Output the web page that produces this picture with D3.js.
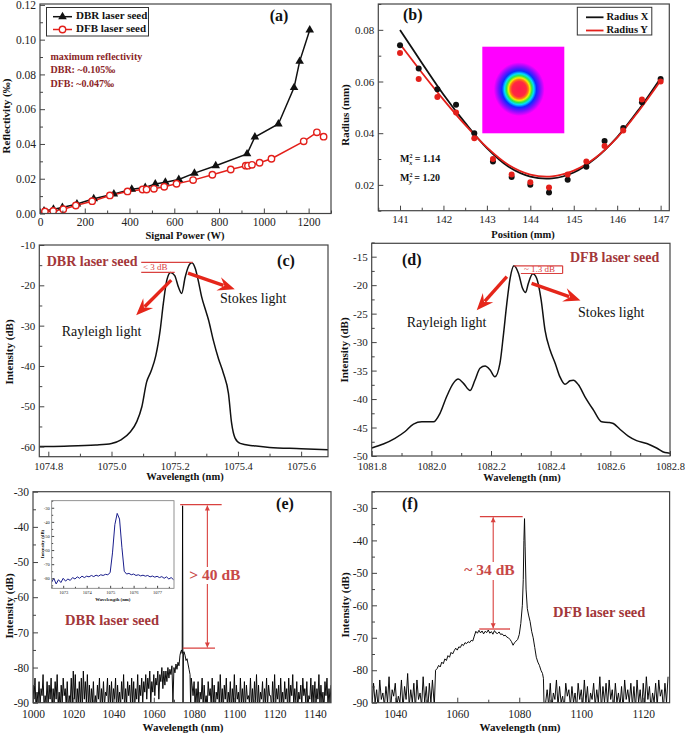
<!DOCTYPE html>
<html><head><meta charset="utf-8">
<script src="https://cdn.jsdelivr.net/npm/d3@7"></script>
<style>body{margin:0;background:#fff}</style>
</head><body>
<script>
// ================= DATA =================
// (a) reflectivity vs signal power
const dbrPower = [18, 60, 100, 165, 240, 330, 410, 470, 515, 560, 620, 690, 785, 925, 960, 1065, 1135, 1160, 1205];
const dbrRefl  = [0.0015, 0.0025, 0.0035, 0.0055, 0.0085, 0.0112, 0.014, 0.015, 0.017, 0.018, 0.0196, 0.0232, 0.0275, 0.0343, 0.044, 0.0515, 0.0724, 0.0875, 0.1055];
const dfbPower = [22, 59, 104, 160, 233, 312, 391, 458, 476, 509, 555, 610, 684, 770, 852, 919, 929, 947, 981, 1034, 1178, 1237, 1267];
const dfbRefl  = [0.0012, 0.0015, 0.0025, 0.0046, 0.0071, 0.0104, 0.0127, 0.0138, 0.0138, 0.0142, 0.0154, 0.0171, 0.0192, 0.0223, 0.0253, 0.0275, 0.0275, 0.028, 0.0292, 0.0315, 0.0415, 0.0467, 0.0442];
const aXTicks = [0, 200, 400, 600, 800, 1000, 1200];
const aYTicks = [0, 0.02, 0.04, 0.06, 0.08, 0.10, 0.12];

// (b) beam radius vs position
const posMM   = [141, 141.43, 141.86, 142.29, 142.71, 143.14, 143.57, 144, 144.43, 144.86, 145.29, 145.71, 146.14, 146.57, 147];
const radiusX = [0.074, 0.065, 0.057, 0.051, 0.040, 0.029, 0.023, 0.020, 0.017, 0.022, 0.027, 0.037, 0.042, 0.052, 0.061];
const radiusY = [0.071, 0.061, 0.054, 0.048, 0.038, 0.030, 0.024, 0.021, 0.019, 0.024, 0.029, 0.035, 0.041, 0.053, 0.060];
const fitPos  = [141, 141.5, 142, 142.5, 143, 143.5, 144, 144.5, 145, 145.5, 146, 146.5, 147];
const fitX    = [0.0799, 0.0673, 0.0550, 0.0440, 0.0342, 0.0270, 0.0232, 0.0225, 0.0248, 0.0303, 0.0385, 0.0492, 0.0613];
const fitY    = [0.0745, 0.0635, 0.0530, 0.0432, 0.0345, 0.0277, 0.0240, 0.0233, 0.0255, 0.0305, 0.0383, 0.0487, 0.0603];
const bXTicks = [141, 142, 143, 144, 145, 146, 147];
const bYTicks = [0.02, 0.04, 0.06, 0.08];

// (c) DBR seed spectrum
const cWl = [1074.7715, 1074.85, 1074.95, 1075.0, 1075.03, 1075.06, 1075.08, 1075.096, 1075.111, 1075.125, 1075.14, 1075.154, 1075.164, 1075.175, 1075.187, 1075.2, 1075.212, 1075.222, 1075.233, 1075.244, 1075.254, 1075.265, 1075.275, 1075.285, 1075.297, 1075.307, 1075.322, 1075.338, 1075.354, 1075.37, 1075.38, 1075.391, 1075.407, 1075.45, 1075.5, 1075.6, 1075.685];
const cDb = [-60.0, -59.9, -59.6, -59.2, -58.3, -56.3, -53.8, -50.1, -44.0, -41.3, -37.5, -31.1, -24.5, -18.7, -16.8, -17.6, -20.5, -22.0, -18.0, -15.2, -14.4, -15.8, -19.0, -22.8, -26.0, -28.6, -33.6, -38.1, -41.8, -46.8, -54.2, -57.9, -59.2, -59.8, -60.2, -60.5, -60.8];
const cXTicks = [1074.8, 1075.0, 1075.2, 1075.4, 1075.6];
const cYTicks = [-60, -50, -40, -30, -20, -10];

// (d) DFB seed spectrum
const dWl = [1081.8, 1081.839, 1081.878, 1081.912, 1081.94, 1081.968, 1082.007, 1082.029, 1082.051, 1082.074, 1082.09, 1082.107, 1082.13, 1082.146, 1082.163, 1082.18, 1082.197, 1082.213, 1082.23, 1082.241, 1082.253, 1082.264, 1082.277, 1082.292, 1082.306, 1082.316, 1082.325, 1082.34, 1082.353, 1082.368, 1082.381, 1082.398, 1082.415, 1082.431, 1082.448, 1082.465, 1082.476, 1082.493, 1082.515, 1082.543, 1082.571, 1082.593, 1082.61, 1082.632, 1082.66, 1082.688, 1082.722, 1082.755, 1082.783, 1082.8];
const dDb = [-48.6, -47.9, -46.9, -45.7, -44.4, -44.0, -44.0, -42.5, -39.6, -37.2, -36.5, -37.2, -38.5, -36.7, -34.6, -34.2, -34.9, -36.1, -33.7, -29.0, -23.2, -18.8, -16.6, -17.9, -20.6, -21.3, -19.7, -18.0, -18.8, -22.6, -27.9, -31.4, -33.7, -36.1, -37.4, -36.8, -36.7, -37.5, -39.6, -41.9, -44.0, -44.1, -44.3, -45.3, -46.5, -47.3, -47.8, -48.6, -49.4, -49.5];
const dXTicks = [1081.8, 1082.0, 1082.2, 1082.4, 1082.6, 1082.8];
const dYTicks = [-50, -45, -40, -35, -30, -25, -20, -15];

// (e) DBR seed broadband spectrum: noise floor tops (integer nm) / lows (half nm) + ASE/peak section
const eTopL = [-85,-83,-87,-84,-86,-82,-88,-84,-85,-83, -86,-84,-82,-87,-85,-83,-86,-84,-88,-83, -81,-82,-86,-84,-83,-81,-84,-82,-85,-86, -84,-88,-85,-83,-86,-84,-87,-83,-85,-84, -86,-83,-85,-87,-84,-82,-86,-84,-85,-83, -84,-86,-82,-85,-83,-84,-82,-83,-81,-84, -82,-83,-81,-82,-80,-81];
const eLowL = [-91,-89,-92,-90,-91,-88,-92,-90,-91,-89, -92,-90,-89,-91,-92,-90,-88,-91,-92,-90, -91,-89,-92,-90,-91,-92,-89,-90,-91,-92, -90,-92,-91,-89,-92,-90,-91,-88,-92,-90, -91,-89,-92,-90,-91,-89,-92,-90,-88,-91, -90,-92,-89,-91,-88,-90,-87,-89,-86,-90, -87,-88,-85,-89,-84,-86];
const ePeakWl = [1065.5,1066,1066.5,1067,1067.5,1068,1068.5,1069,1069.5,1070,1070.5,1071,1071.5,1072,1072.5,1073,1073.4,1073.8,1074.1,1074.3,1074.5,1074.7,1075,1075.5,1076,1076.5,1077,1077.5,1078,1078.3,1078.6,1079,1079.5,1080];
const ePeakDb = [-85,-81,-84,-80,-83,-80.5,-82,-79.5,-90,-80,-81.5,-79,-80.5,-78.5,-79.5,-76.5,-75.5,-75,-76,-34,-91,-76,-75.5,-76.5,-78,-77.5,-79,-80.5,-82,-91,-83,-85,-88,-84];
const eTopR = [-86,-84,-87,-83,-85,-88,-84,-86,-83,-85, -87,-84,-82,-86,-85,-83,-87,-84,-86,-82, -85,-87,-83,-86,-84,-85,-88,-83,-86,-84, -82,-85,-87,-84,-86,-83,-85,-88,-84,-82, -86,-85,-83,-87,-84,-86,-83,-85,-82,-86, -84,-87,-85,-83,-86,-84,-88,-83,-85,-84, -86,-82,-85,-87,-84,-83,-86,-85];
const eLowR = [-91,-90,-92,-89,-91,-90,-92,-88,-91,-90, -92,-89,-91,-90,-92,-89,-91,-90,-92,-90, -91,-89,-92,-90,-91,-92,-89,-90,-91,-92, -90,-92,-91,-89,-92,-90,-91,-88,-92,-90, -91,-89,-92,-90,-91,-89,-92,-90,-88,-91, -90,-92,-89,-91,-88,-90,-92,-89,-91,-90, -92,-89,-91,-90,-92,-88,-91,-90];
const eXTicks = [1000, 1020, 1040, 1060, 1080, 1100, 1120, 1140];
const eYTicks = [-90, -80, -70, -60, -50, -40, -30];

// (e) inset, DBR seed narrow spectrum (0.1 nm grid from 1072.5 nm)
const insetDb = [-83,-80,-84,-81,-83,-80,-82,-80.5,-81.5,-79.5, -80.5,-79,-80,-78.5,-79.5,-78.5,-79,-78,-78.8,-77.8, -78.5,-77.5,-78,-77.2,-77.5,-76,-62,-42,-34,-38, -58,-75,-77,-76.5,-77.5,-77,-78,-77.5,-78.3,-77.8, -78.5,-78,-79,-78.4,-79.2,-78.6,-79.5,-78.8,-80,-79, -80.5,-79.5,-81];
const insetXTicks = [1073, 1074, 1075, 1076, 1077];
const insetYTicks = [-80, -70, -60, -50, -40, -30];

// (f) DFB seed broadband spectrum
const fTopL = [-84,-86,-83,-87,-85,-82,-86,-84,-88,-83,-85,-81,-86,-84,-83,-87,-82,-85,-84,-83];
const fLowL = [-91,-90,-92,-89,-91,-90,-92,-88,-91,-90,-92,-89,-91,-90,-92,-89,-91,-90,-92,-90];
const fAseWl = [1052.6,1053,1053.5,1054,1054.5,1055,1055.5,1056,1056.5,1057,1057.5,1058,1058.5,1059,1059.5,1060,1060.5,1061,1061.5,1062,1062.5,1063,1063.5,1064,1064.5,1065,1065.5,1066,1066.5,1067,1067.5,1068,1068.5,1069,1069.5,1070,1070.5,1071,1071.5,1072,1072.5,1073,1073.5,1074,1074.5,1075,1075.5,1076,1076.5,1077,1077.5,1078,1078.5,1079,1079.5,1080,1080.5,1081,1081.3,1081.5,1081.7,1081.9,1082.2,1082.6,1083,1083.5,1084,1084.5,1085,1085.5,1086,1086.5,1087,1087.5,1087.8,1088];
const fAseDb = [-91,-80,-79.5,-78.5,-79,-77.5,-78,-76.5,-77,-75.5,-76,-74.5,-75,-74,-73.2,-73.8,-72.8,-73,-72,-72.4,-71.5,-71.8,-71.2,-71.5,-70.8,-71,-69.5,-68,-68.6,-67.7,-68.5,-67.9,-68.8,-68,-68.4,-67.6,-68.6,-68.1,-68.9,-67.8,-68.5,-68.7,-68.2,-69,-68.8,-69.4,-69.2,-69.8,-70,-70.5,-71.2,-72.3,-71.5,-71,-70.5,-69,-65.6,-60,-52,-40,-33.3,-42,-55,-61,-63,-65,-68,-70,-73,-76,-77.5,-78.5,-80,-81,-82.5,-91];
const fTopR = [-86,-84,-87,-83,-85,-88,-84,-86,-85,-87, -84,-86,-83,-85,-87,-84,-86,-82,-85,-84, -83,-86,-84,-87,-85,-83,-86,-84,-85,-83, -86,-84,-82,-85,-87,-84,-83,-86,-84,-82];
const fLowR = [-90,-91,-92,-89,-91,-90,-92,-88,-91,-90, -92,-89,-91,-90,-92,-89,-91,-90,-92,-90, -91,-89,-92,-90,-91,-92,-89,-90,-91,-92, -90,-92,-91,-89,-92,-90,-91,-88,-92,-90];
const fXTicks = [1040, 1060, 1080, 1100, 1120];
const fYTicks = [-90, -80, -70, -60, -50, -40, -30];

// ================= DRAWING =================
const FONT = "'Liberation Serif','Times New Roman',serif";
const RED = "#e3201b", BROWN = "#a3373a", ANN = "#d9413f";
const svg = d3.select("body").append("svg").attr("width", 685).attr("height", 736).style("background", "#fff");
const defs = svg.append("defs");
let cid = 0;

function mids(t){ return d3.pairs(t).map(([a,b]) => (a+b)/2); }
function styleAxis(sel, fs){
  sel.select(".domain").remove();
  sel.selectAll("line").attr("stroke", "#444").attr("stroke-width", 1);
  sel.selectAll("text").attr("font-family", FONT).attr("font-size", fs).attr("fill", "#222");
}
function panel(c){
  const x = d3.scaleLinear().domain(c.xd).range([c.l, c.r]);
  const y = d3.scaleLinear().domain(c.yd).range([c.b, c.t]);
  const id = "cp" + (cid++);
  defs.append("clipPath").attr("id", id).append("rect")
    .attr("x", c.l).attr("y", c.t).attr("width", c.r - c.l).attr("height", c.b - c.t);
  const root = svg.append("g");
  if (c.bg) root.append("rect").attr("x", c.l).attr("y", c.t).attr("width", c.r - c.l).attr("height", c.b - c.t).attr("fill", c.bg);
  const plot = root.append("g").attr("clip-path", `url(#${id})`);
  const front = root.append("g");
  const fs = c.fs || 11, tl = c.tl || 5, tm = c.tm || 3;
  const xm = c.xm || mids(c.xt), ym = c.ym || mids(c.yt);
  front.append("g").attr("transform", `translate(0,${c.b})`)
    .call(d3.axisBottom(x).tickValues(xm).tickSize(-tm).tickFormat("")).call(s => styleAxis(s, fs));
  front.append("g").attr("transform", `translate(0,${c.b})`)
    .call(d3.axisBottom(x).tickValues(c.xt).tickSize(-tl).tickPadding(c.xp || 4).tickFormat(c.xf)).call(s => styleAxis(s, c.xfs || fs));
  front.append("g").attr("transform", `translate(${c.l},0)`)
    .call(d3.axisLeft(y).tickValues(ym).tickSize(-tm).tickFormat("")).call(s => styleAxis(s, fs));
  front.append("g").attr("transform", `translate(${c.l},0)`)
    .call(d3.axisLeft(y).tickValues(c.yt).tickSize(-tl).tickPadding(c.yp || 4).tickFormat(c.yf)).call(s => styleAxis(s, fs));
  front.append("rect").attr("x", c.l).attr("y", c.t).attr("width", c.r - c.l).attr("height", c.b - c.t)
    .attr("fill", "none").attr("stroke", c.frame || "#444").attr("stroke-width", c.fw || 1.2);
  return {x, y, plot, front, c};
}
function text(g, x, y, s, o = {}){
  return g.append("text").attr("x", x).attr("y", y).text(s)
    .attr("font-family", FONT).attr("font-size", o.size || 11)
    .attr("font-weight", o.bold ? "bold" : "normal")
    .attr("fill", o.color || "#111")
    .attr("text-anchor", o.anchor || "start")
    .attr("dominant-baseline", o.base || "auto");
}
function vtitle(x, y, s, size){
  svg.append("text").attr("transform", `translate(${x},${y}) rotate(-90)`).text(s)
    .attr("font-family", FONT).attr("font-size", size || 11).attr("font-weight", "bold")
    .attr("text-anchor", "middle").attr("dominant-baseline", "middle").attr("fill", "#111");
}
function htitle(x, y, s, size){
  text(svg, x, y, s, {size: size || 11, bold: true, anchor: "middle", base: "middle"});
}
function arrow(g, x1, y1, x2, y2, color){
  const dx = x2 - x1, dy = y2 - y1, L = Math.hypot(dx, dy), ux = dx / L, uy = dy / L;
  const hl = 15, hw = 7;
  const bx = x2 - ux * hl, by = y2 - uy * hl;
  g.append("line").attr("x1", x1).attr("y1", y1).attr("x2", bx + ux * 3).attr("y2", by + uy * 3)
    .attr("stroke", color).attr("stroke-width", 3.4);
  g.append("path").attr("d", `M${x2},${y2}L${bx - uy * hw - ux * 2},${by + ux * hw - uy * 2}L${bx + ux * 4},${by + uy * 4}L${bx + uy * hw - ux * 2},${by - ux * hw - uy * 2}Z`)
    .attr("fill", color);
}
function zigzag(lows, tops, start){
  const out = [];
  lows.forEach((v, i) => { out.push([start + i, v]); out.push([start + i + 0.5, tops[i]]); });
  return out;
}
const fmtInt = d => String(d);
const fmt1 = d => d.toFixed(1);
const fmt2 = d => d.toFixed(2);

// ---------- (a) ----------
const A = panel({l: 40, r: 331, t: 4, b: 213.5, xd: [0, 1300], yd: [0, 0.1205],
  xt: aXTicks, yt: aYTicks, xf: fmtInt, yf: fmt2, fs: 11.5, xp: 4.5, xm: [100,300,500,700,900,1100,1300]});
{
  const line = d3.line().x(d => A.x(d[0])).y(d => A.y(d[1]));
  const dbr = d3.zip(dbrPower, dbrRefl), dfb = d3.zip(dfbPower, dfbRefl);
  A.plot.append("path").attr("d", line(dbr)).attr("fill", "none").attr("stroke", "#111").attr("stroke-width", 1.5);
  A.plot.append("path").attr("d", line(dfb)).attr("fill", "none").attr("stroke", RED).attr("stroke-width", 1.5);
  const tri = d3.symbol(d3.symbolTriangle).size(32);
  A.plot.selectAll(".tri").data(dbr).join("path").attr("d", tri)
    .attr("transform", d => `translate(${A.x(d[0])},${A.y(d[1])})`).attr("fill", "#111");
  A.plot.selectAll(".cir").data(dfb).join("circle").attr("cx", d => A.x(d[0])).attr("cy", d => A.y(d[1]))
    .attr("r", 3.2).attr("fill", "#fff").attr("stroke", RED).attr("stroke-width", 1.4);
  // legend
  const lg = A.front;
  lg.append("rect").attr("x", 46.5).attr("y", 7.5).attr("width", 102).attr("height", 28.5).attr("fill", "#fff").attr("stroke", "#333").attr("stroke-width", 1);
  lg.append("line").attr("x1", 53).attr("x2", 72).attr("y1", 16.7).attr("y2", 16.7).attr("stroke", "#111").attr("stroke-width", 1.5);
  lg.append("path").attr("d", tri).attr("transform", "translate(62.5,16.7)").attr("fill", "#111");
  lg.append("line").attr("x1", 53).attr("x2", 72).attr("y1", 29.5).attr("y2", 29.5).attr("stroke", RED).attr("stroke-width", 1.5);
  lg.append("circle").attr("cx", 62.5).attr("cy", 29.5).attr("r", 3.2).attr("fill", "#fff").attr("stroke", RED).attr("stroke-width", 1.4);
  text(lg, 76, 16.7, "DBR laser seed", {size: 11, bold: true, base: "middle"});
  text(lg, 76, 29.8, "DFB laser seed", {size: 11, bold: true, base: "middle"});
  text(A.front, 279, 17, "(a)", {size: 16, bold: true, anchor: "middle", base: "middle"});
  text(A.front, 50.5, 57.5, "maximum reflectivity", {size: 10, bold: true, color: "#8b2527", base: "middle"});
  text(A.front, 50.5, 71, "DBR: ~0.105‰", {size: 10, bold: true, color: "#8b2527", base: "middle"});
  text(A.front, 50.5, 84.5, "DFB: ~0.047‰", {size: 10, bold: true, color: "#8b2527", base: "middle"});
}
vtitle(7, 116, "Reflectivity (‰)");
htitle(185, 237, "Signal Power (W)", 10.5);

// ---------- (b) ----------
const B = panel({l: 378.3, r: 669.3, t: 4, b: 210.7, xd: [140.5, 147.2], yd: [0.01, 0.09],
  xt: bXTicks, yt: bYTicks, xf: fmtInt, yf: fmt2, fs: 11, xp: 4.5, xm: [140.5,141.5,142.5,143.5,144.5,145.5,146.5], ym: [0.01,0.03,0.05,0.07,0.09]});
{
  const line = d3.line().x(d => B.x(d[0])).y(d => B.y(d[1])).curve(d3.curveCatmullRom);
  B.plot.append("path").attr("d", line(d3.zip(fitPos, fitX))).attr("fill", "none").attr("stroke", "#111").attr("stroke-width", 1.8);
  B.plot.append("path").attr("d", line(d3.zip(fitPos, fitY))).attr("fill", "none").attr("stroke", RED).attr("stroke-width", 1.8);
  B.plot.selectAll(".px").data(d3.zip(posMM, radiusX)).join("circle").attr("cx", d => B.x(d[0])).attr("cy", d => B.y(d[1])).attr("r", 3).attr("fill", "#111");
  B.plot.selectAll(".py").data(d3.zip(posMM, radiusY)).join("circle").attr("cx", d => B.x(d[0])).attr("cy", d => B.y(d[1])).attr("r", 3).attr("fill", RED);
  // beam profile inset
  const gr = defs.append("radialGradient").attr("id", "beam").attr("cx", 0.45).attr("cy", 0.49).attr("r", 0.31).attr("fx", 0.45).attr("fy", 0.49);
  [[0, "#ff1a4e"], [0.28, "#ff2a40"], [0.36, "#ff7a10"], [0.42, "#f4f000"], [0.5, "#2ee84a"], [0.58, "#00dcff"], [0.68, "#0a2cff"], [0.82, "#7a10ff"], [1, "#ff00ff"]]
    .forEach(([o, col]) => gr.append("stop").attr("offset", o).attr("stop-color", col));
  B.front.append("rect").attr("x", 482.3).attr("y", 46.7).attr("width", 82).attr("height", 86.6).attr("fill", "url(#beam)");
  // legend
  B.front.append("rect").attr("x", 577.3).attr("y", 7.3).attr("width", 74.5).attr("height", 27.7).attr("fill", "#fff").attr("stroke", "#333").attr("stroke-width", 1);
  B.front.append("line").attr("x1", 586).attr("x2", 603.5).attr("y1", 17.3).attr("y2", 17.3).attr("stroke", "#111").attr("stroke-width", 1.8);
  B.front.append("line").attr("x1", 586).attr("x2", 603.5).attr("y1", 30.5).attr("y2", 30.5).attr("stroke", RED).attr("stroke-width", 1.8);
  text(B.front, 606.5, 17.5, "Radius X", {size: 10.5, bold: true, base: "middle"});
  text(B.front, 606.5, 30.7, "Radius Y", {size: 10.5, bold: true, base: "middle"});
  text(B.front, 412.7, 16.7, "(b)", {size: 16, bold: true, anchor: "middle", base: "middle"});
  const m1 = B.front.append("text").attr("x", 400).attr("y", 162).attr("font-family", FONT).attr("font-size", 10).attr("font-weight", "bold").attr("fill", "#111");
  m1.append("tspan").text("M");
  m1.append("tspan").text("2").attr("font-size", 6).attr("dy", -4);
  m1.append("tspan").text("x").attr("font-size", 6).attr("font-style", "italic").attr("dx", -3.3).attr("dy", 7);
  m1.append("tspan").text(" = 1.14").attr("dy", -3);
  const m2 = B.front.append("text").attr("x", 400).attr("y", 181).attr("font-family", FONT).attr("font-size", 10).attr("font-weight", "bold").attr("fill", "#111");
  m2.append("tspan").text("M");
  m2.append("tspan").text("2").attr("font-size", 6).attr("dy", -4);
  m2.append("tspan").text("y").attr("font-size", 6).attr("font-style", "italic").attr("dx", -3.3).attr("dy", 7);
  m2.append("tspan").text(" = 1.20").attr("dy", -3);
}
vtitle(346, 115, "Radius (mm)");
htitle(523, 236, "Position (mm)", 10.5);

// ---------- (c) ----------
const C = panel({l: 39.3, r: 328, t: 245, b: 456.7, xd: [1074.7715, 1075.685], yd: [-62.5, -10],
  xt: cXTicks, yt: cYTicks, xf: fmt1, yf: fmtInt, fs: 11, xfs: 10.5, xp: 5.5, xm: [1074.9, 1075.1, 1075.3, 1075.5], ym: [-55, -45, -35, -25, -15]});
{
  const line = d3.line().x(d => C.x(d[0])).y(d => C.y(d[1])).curve(d3.curveMonotoneX);
  C.plot.append("path").attr("d", line(d3.zip(cWl, cDb))).attr("fill", "none").attr("stroke", "#111").attr("stroke-width", 1.5);
  const g = C.front, x = C.x, y = C.y;
  text(g, 46.7, 262.5, "DBR laser seed", {size: 14, bold: true, color: BROWN, base: "middle"});
  g.append("line").attr("x1", x(1075.094)).attr("x2", x(1075.257)).attr("y1", y(-14.3)).attr("y2", y(-14.3)).attr("stroke", ANN).attr("stroke-width", 1.2);
  g.append("line").attr("x1", x(1075.094)).attr("x2", x(1075.2)).attr("y1", y(-16.8)).attr("y2", y(-16.8)).attr("stroke", ANN).attr("stroke-width", 1.2);
  text(g, 143, 270.3, "< 3 dB", {size: 9, color: ANN});
  arrow(g, x(1075.189), y(-18.7), x(1075.078), y(-27.4), "#e5261a");
  arrow(g, x(1075.242), y(-17.0), x(1075.39), y(-21.0), "#e5261a");
  text(g, 220, 303, "Stokes light", {size: 14});
  text(g, 61.7, 336, "Rayleigh light", {size: 14});
  text(g, 286, 262, "(c)", {size: 16, bold: true, anchor: "middle", base: "middle"});
}
vtitle(10, 352, "Intensity (dB)");
htitle(185, 478, "Wavelength (nm)", 10.5);

// ---------- (d) ----------
const D = panel({l: 371.7, r: 670, t: 243.3, b: 456, xd: [1081.8, 1082.8], yd: [-50, -12.65],
  xt: dXTicks, yt: dYTicks, xf: fmt1, yf: fmtInt, fs: 11, xfs: 10.5, xp: 6.5, xm: [1081.9, 1082.1, 1082.3, 1082.5, 1082.7], ym: [-47.5, -42.5, -37.5, -32.5, -27.5, -22.5, -17.5, -12.5]});
{
  const line = d3.line().x(d => D.x(d[0])).y(d => D.y(d[1])).curve(d3.curveMonotoneX);
  D.plot.append("path").attr("d", line(d3.zip(dWl, dDb))).attr("fill", "none").attr("stroke", "#111").attr("stroke-width", 1.5);
  const g = D.front, x = D.x, y = D.y;
  text(g, 570, 258.5, "DFB laser seed", {size: 14, bold: true, color: BROWN, base: "middle"});
  g.append("line").attr("x1", x(1082.277)).attr("x2", x(1082.44)).attr("y1", y(-16.6)).attr("y2", y(-16.6)).attr("stroke", ANN).attr("stroke-width", 1.2);
  g.append("line").attr("x1", x(1082.3)).attr("x2", x(1082.44)).attr("y1", y(-17.95)).attr("y2", y(-17.95)).attr("stroke", ANN).attr("stroke-width", 1.2);
  g.append("line").attr("x1", x(1082.44)).attr("x2", x(1082.44)).attr("y1", y(-16.6)).attr("y2", y(-17.95)).attr("stroke", ANN).attr("stroke-width", 1.2);
  text(g, 524, 272.2, "~ 1.3 dB", {size: 9, color: ANN});
  arrow(g, x(1082.253), y(-18.5), x(1082.152), y(-24.4), "#e5261a");
  arrow(g, x(1082.336), y(-19.7), x(1082.5), y(-22.7), "#e5261a");
  text(g, 578, 316.7, "Stokes light", {size: 14});
  text(g, 406.7, 326.7, "Rayleigh light", {size: 14});
  text(g, 411.7, 261.7, "(d)", {size: 16, bold: true, anchor: "middle", base: "middle"});
}
vtitle(345, 350, "Intensity (dB)");
htitle(522, 479, "Wavelength (nm)", 10.5);

// ---------- (e) ----------
const E = panel({l: 33, r: 331, t: 491.7, b: 702.7, xd: [1000, 1148], yd: [-90, -30],
  xt: eXTicks, yt: eYTicks, xf: fmtInt, yf: fmtInt, fs: 11.5, xp: 7, xm: [1010,1030,1050,1070,1090,1110,1130], ym: [-85,-75,-65,-55,-45,-35]});
{
  const series = [...zigzag(eLowL, eTopL, 999.5), ...d3.zip(ePeakWl, ePeakDb), ...zigzag(eLowR, eTopR, 1080.5)];
  const line = d3.line().x(d => E.x(d[0])).y(d => E.y(d[1]));
  E.plot.append("path").attr("d", line(series)).attr("fill", "none").attr("stroke", "#000").attr("stroke-width", 0.95);
  const g = E.front, x = E.x, y = E.y;
  g.append("line").attr("x1", x(1073.1)).attr("x2", x(1093.7)).attr("y1", y(-33.7)).attr("y2", y(-33.7)).attr("stroke", ANN).attr("stroke-width", 1.3);
  g.append("line").attr("x1", x(1074.4)).attr("x2", x(1090.4)).attr("y1", y(-74.5)).attr("y2", y(-74.5)).attr("stroke", ANN).attr("stroke-width", 1.3);
  g.append("line").attr("x1", x(1086.6)).attr("x2", x(1086.6)).attr("y1", y(-33.9)).attr("y2", y(-74.3)).attr("stroke", ANN).attr("stroke-width", 1.1);
  g.append("path").attr("d", `M${x(1086.6)},${y(-33.9)}l-2.5,5h5z`).attr("fill", ANN);
  g.append("path").attr("d", `M${x(1086.6)},${y(-74.3)}l-2.5,-5h5z`).attr("fill", ANN);
  g.append("rect").attr("x", 189).attr("y", 567).attr("width", 46).attr("height", 17).attr("fill", "#fff");
  text(g, 189.3, 580, "> 40 dB", {size: 15.5, bold: true, color: "#c84848"});
  text(g, 65, 622, "DBR laser seed", {size: 14.5, bold: true, color: BROWN, base: "middle"});
  text(g, 285, 505, "(e)", {size: 16, bold: true, anchor: "middle", base: "middle"});
}
// inset
const I = panel({l: 51.7, r: 174, t: 500.7, b: 588.3, xd: [1072.51, 1077.72], yd: [-87.1, -25],
  xt: insetXTicks, yt: insetYTicks, xf: fmtInt, yf: fmtInt, fs: 4.5, tl: 2.5, tm: 1.5, xp: 2.5, yp: 2,
  xm: [1072.5, 1073.5, 1074.5, 1075.5, 1076.5, 1077.5], ym: [-85, -75, -65, -55, -45, -35, -25], bg: "#fff", frame: "#777", fw: 0.8});
{
  const grid = d3.range(insetDb.length).map(i => 1072.5 + i * 0.1);
  const line = d3.line().x(d => I.x(d[0])).y(d => I.y(d[1]));
  I.plot.append("path").attr("d", line(d3.zip(grid, insetDb))).attr("fill", "none").attr("stroke", "#1a1e8c").attr("stroke-width", 1);
  text(svg, 112.8, 600, "Wavelength (nm)", {size: 4.8, bold: true, anchor: "middle", base: "middle"});
  svg.append("text").attr("transform", "translate(42.5,544) rotate(-90)").text("Intensity (dB)")
    .attr("font-family", FONT).attr("font-size", 4.8).attr("font-weight", "bold").attr("text-anchor", "middle").attr("dominant-baseline", "middle");
}
vtitle(10, 606, "Intensity (dB)");
htitle(183, 728, "Wavelength (nm)", 11);

// ---------- (f) ----------
const F = panel({l: 372, r: 669.6, t: 491.7, b: 702.7, xd: [1032.5, 1128.5], yd: [-90, -25],
  xt: fXTicks, yt: fYTicks, xf: fmtInt, yf: fmtInt, fs: 11.5, xp: 7, xm: [1050,1070,1090,1110], ym: [-85,-75,-65,-55,-45,-35,-25]});
{
  const series = [...zigzag(fLowL, fTopL, 1032.5), ...d3.zip(fAseWl, fAseDb), ...zigzag(fLowR, fTopR, 1088.5)];
  const line = d3.line().x(d => F.x(d[0])).y(d => F.y(d[1]));
  F.plot.append("path").attr("d", line(series)).attr("fill", "none").attr("stroke", "#000").attr("stroke-width", 0.95);
  const g = F.front, x = F.x, y = F.y;
  g.append("line").attr("x1", x(1067.3)).attr("x2", x(1081.1)).attr("y1", y(-32.7)).attr("y2", y(-32.7)).attr("stroke", ANN).attr("stroke-width", 1.3);
  g.append("line").attr("x1", x(1067.1)).attr("x2", x(1077.0)).attr("y1", y(-67.3)).attr("y2", y(-67.3)).attr("stroke", ANN).attr("stroke-width", 1.3);
  g.append("line").attr("x1", x(1071.6)).attr("x2", x(1071.6)).attr("y1", y(-32.9)).attr("y2", y(-67.1)).attr("stroke", ANN).attr("stroke-width", 1.1);
  g.append("path").attr("d", `M${x(1071.6)},${y(-32.9)}l-2.5,5h5z`).attr("fill", ANN);
  g.append("path").attr("d", `M${x(1071.6)},${y(-67.1)}l-2.5,-5h5z`).attr("fill", ANN);
  g.append("rect").attr("x", 465).attr("y", 562).attr("width", 50).attr("height", 18).attr("fill", "#fff");
  text(g, 489.5, 571, "~ 34 dB", {size: 15.5, bold: true, color: "#c84848", anchor: "middle", base: "middle"});
  text(g, 553, 614, "DFB laser seed", {size: 14.5, bold: true, color: BROWN, base: "middle"});
  text(g, 410, 505, "(f)", {size: 16, bold: true, anchor: "middle", base: "middle"});
}
vtitle(346, 605, "Intensity (dB)");
htitle(520, 728, "Wavelength (nm)", 11);
</script>
</body></html>
